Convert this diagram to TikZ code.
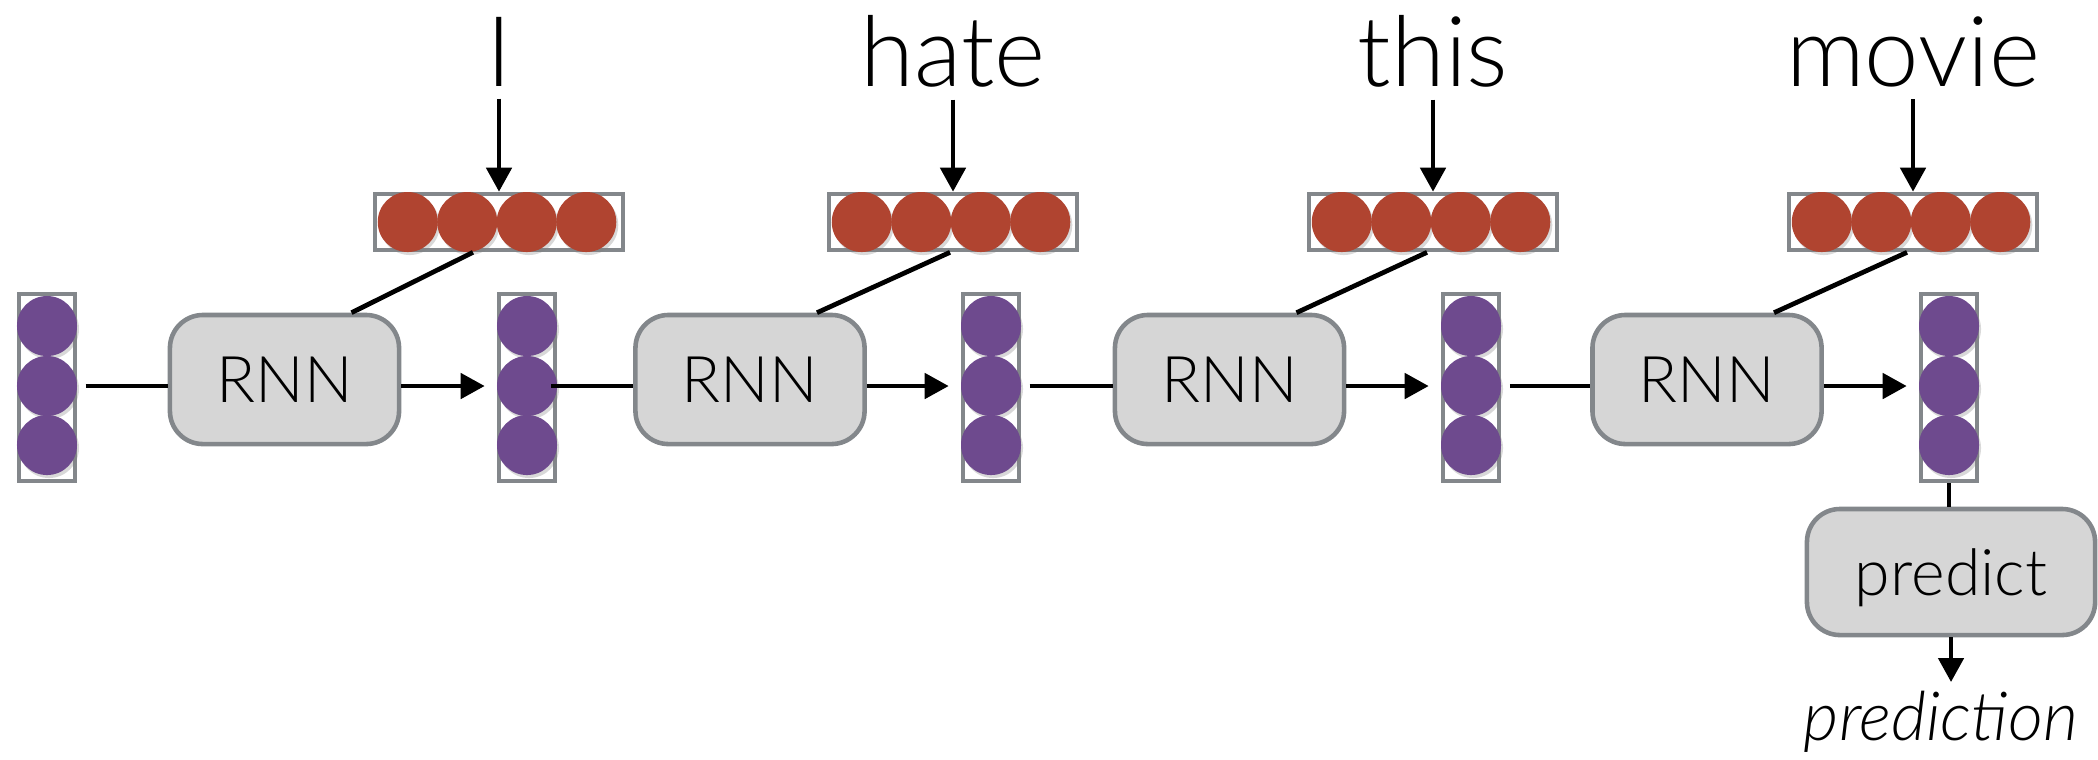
\documentclass[tikz,border=0pt]{standalone}
\usepackage{fontspec}
\setmainfont{Lato Light}[ItalicFont={Lato Light Italic}]
\usetikzlibrary{arrows.meta, shadows, calc, positioning}

\definecolor{embred}{RGB}{176,68,48}
\definecolor{statepurple}{RGB}{110,74,142}
\definecolor{framegrey}{RGB}{131,135,139}
\definecolor{cellgrey}{RGB}{214,214,214}

\tikzset{
  frm/.style={draw=framegrey, line width=1.3pt, fill=white, inner sep=0pt},
  unit/.style={circle, minimum size=0.6cm, inner sep=0pt,
    drop shadow={opacity=0.3, shadow xshift=0.02cm, shadow yshift=-0.03cm}},
  cell/.style={draw=framegrey, line width=1.3pt, fill=cellgrey, rounded corners=0.33cm,
    minimum width=2.29cm, minimum height=1.29cm, font=\fontsize{18.3}{20}\selectfont},
  cn/.style={line width=1.35pt},
  arr/.style={cn, -{Triangle[length=0.24cm, width=0.25cm]}},
  word/.style={inner sep=0pt, anchor=base, font=\fontsize{27.8}{30}\selectfont}
}

\begin{document}
\begin{tikzpicture}[x=0.01cm, y=-0.01cm]
\useasboundingbox (0,0) rectangle (2098,759);
\foreach \i/\x in {0/47, 1/527, 2/991, 3/1471, 4/1949} {
  \node[frm, minimum width=0.56cm, minimum height=1.87cm] (v\i) at (\x,387.5) {};
  \foreach \k/\y in {1/326, 2/386, 3/445}
    \node[unit, fill=statepurple] (v\i-\k) at (\x,\y) {};
}
\foreach \i/\x/\w in {0/499/I, 1/953/hate, 2/1433/this, 3/1913/movie} {
  \node[frm, minimum width=2.48cm, minimum height=0.56cm] (e\i) at (\x,222) {};
  \foreach \k in {0,...,3}
    \node[unit, fill=embred] (e\i-\k) at ($(e\i)+({(\k-1.5)*59.5-2},0)$) {};
  \node[word] (w\i) at (\x,86) {\w};
  \draw[arr, shorten <=0.12cm] (w\i.south -| e\i.north) -- (e\i.north);
}
\foreach \i/\x in {0/284.5, 1/750, 2/1229.5, 3/1707}
  \node[cell] (r\i) at (\x,379.5) {RNN};
\foreach \i/\s/\dx [count=\j] in {0/0.08/-26, 1/-0.065/-3, 2/0.08/-6, 3/0.08/-6} {
  \draw[cn, shorten <=\s cm] (v\i-2.east) -- (r\i.west |- v\i-2);
  \draw[arr, shorten >=0.12cm] (r\i.east |- v\j-2) -- (v\j.west |- v\j-2);
  \draw[cn] ($(e\i.south)+(\dx,0)$) -- ($(r\i.north)+(67,0)$);
}
\node[cell, minimum width=2.88cm, minimum height=1.26cm, text depth=0pt] (p) at (1951,572) {predict};
\draw[cn] (v4.south) -- (v4.south |- p.north);
\coordinate (tip) at (1951,682);
\draw[arr] (p) -- (tip);
\node[inner sep=0pt, anchor=base, font=\fontsize{19.3}{21}\selectfont\itshape] (out) at (1941,740) {prediction};
\end{tikzpicture}
\end{document}
